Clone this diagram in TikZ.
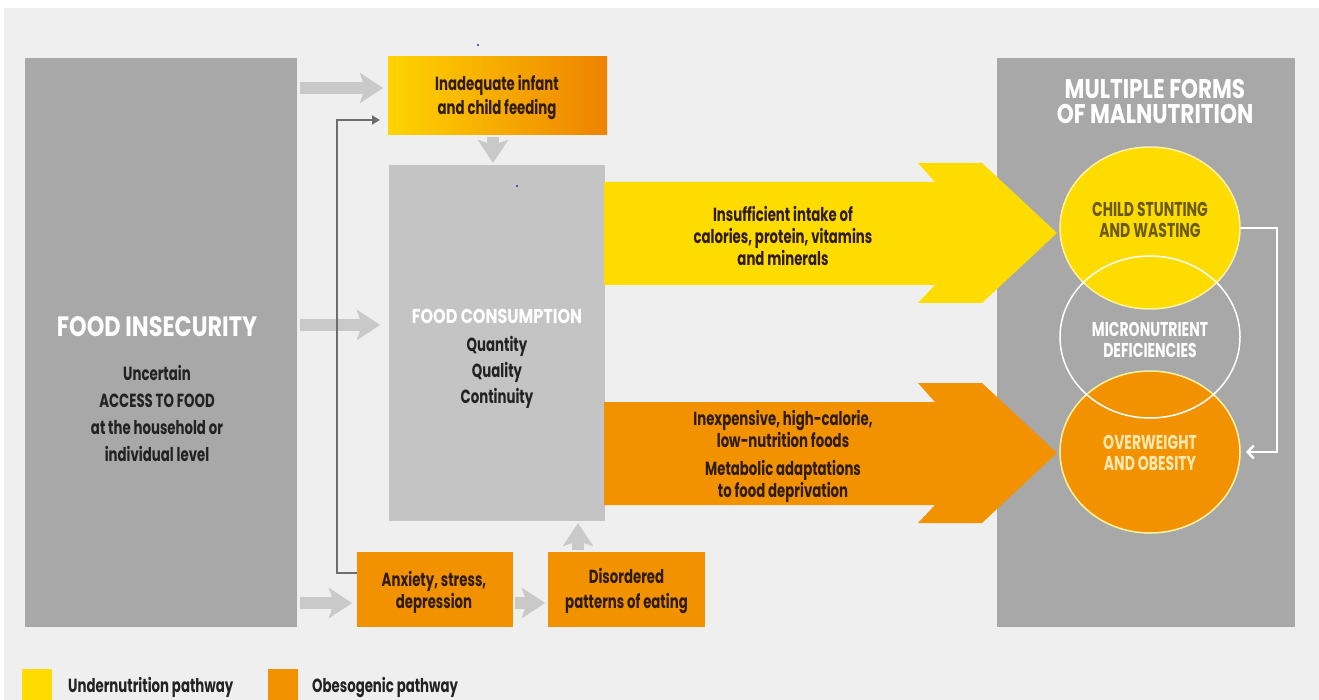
\documentclass[tikz,border=0pt]{standalone}
\usepackage{fontspec}
\setmainfont{Poppins}[FakeStretch=0.70]
\newfontfamily\headfont{Poppins}[FakeStretch=0.80]
\usetikzlibrary{arrows.meta,shapes.geometric}
\definecolor{bgc}{HTML}{EFEFEF}
\definecolor{darkgray}{HTML}{A8A8A8}
\definecolor{lightgray}{HTML}{C4C4C4}
\definecolor{arrowgray}{HTML}{C9C9C9}
\definecolor{linegray}{HTML}{6E6E6E}
\definecolor{yel}{HTML}{FFDC00}
\definecolor{ora}{HTML}{F39200}
\definecolor{gradL}{HTML}{FFD400}
\definecolor{gradR}{HTML}{EE8200}
\definecolor{txt}{HTML}{2E1C10}
\definecolor{txtg}{HTML}{222222}
\definecolor{olive}{HTML}{6A5A18}
\definecolor{cream}{HTML}{FCE8B0}
\definecolor{ringy}{HTML}{FFF2A0}
\definecolor{dotc}{HTML}{2B3A8C}
\begin{document}
\begin{tikzpicture}[x=1pt,y=-1pt,
  panel/.style={rectangle, inner sep=0pt, outer sep=0pt, draw=none},
  lbl/.style={inner sep=0pt, align=center, text=txt, font=\bfseries\fontsize{19}{22}\selectfont},
  head/.style={inner sep=0pt, align=center, text=white, font=\headfont\bfseries\fontsize{20}{24}\selectfont},
  garrow/.style={draw=arrowgray, line width=12pt, -{Stealth[length=23pt,width=30pt,inset=5pt]}},
  thinline/.style={draw=linegray, line width=2pt, -{Triangle[length=8pt,width=9pt]}},
  circ/.style={ellipse, inner sep=0pt, outer sep=0pt, minimum width=180pt, minimum height=162pt}
]
\useasboundingbox (0,0) rectangle (1319,700);
\fill[white] (0,0) rectangle (1319,700);
\fill[bgc] (4,8) rectangle (1319,700);

% helper coordinates
\coordinate (y88) at (0,88);
\coordinate (y325) at (0,325);
\coordinate (y603) at (0,603);
\coordinate (y573) at (0,573);
\coordinate (x493) at (493,0);
\coordinate (x578) at (578,0);
\coordinate (bend) at (337,120);
\coordinate (xr) at (1277,0);

% main panels
\node[panel, fill=darkgray, minimum width=272pt, minimum height=569pt] (fi) at (161,342.5) {};
\node[panel, left color=gradL, right color=gradR, minimum width=219pt, minimum height=78pt] (inad) at (497.5,96) {};
\node[panel, fill=lightgray, minimum width=216pt, minimum height=356pt] (fc) at (497,343) {};
\node[panel, fill=ora, minimum width=156pt, minimum height=75pt] (anx) at (435,589.5) {};
\node[panel, fill=ora, minimum width=157pt, minimum height=75pt] (dis) at (626.5,589.5) {};
\node[panel, fill=darkgray, minimum width=298pt, minimum height=569pt] (mf) at (1146,342.5) {};

% texts in boxes
\node[head, font=\headfont\bfseries\fontsize{28}{30}\selectfont] (fititle) at (157,327) {FOOD INSECURITY};
\node[lbl, text=txtg, font=\bfseries\fontsize{19}{27}\selectfont] (fitext) at (157,413) {Uncertain\\ACCESS TO FOOD\\at the household or\\individual level};
\node[lbl, font=\bfseries\fontsize{19}{24}\selectfont] (inadtext) at (497,98) {Inadequate infant\\and child feeding};
\node[head] (fctitle) at (497,316) {FOOD CONSUMPTION};
\node[lbl, text=txtg, font=\bfseries\fontsize{19}{26}\selectfont] (fctext) at (497,372) {Quantity\\Quality\\Continuity};
\node[lbl] (anxtext) at (434,592) {Anxiety, stress,\\depression};
\node[lbl, font=\bfseries\fontsize{19}{25}\selectfont] (distext) at (626.5,591) {Disordered\\patterns of eating};

% big arrows
\fill[yel] (604,182) -- (935,182) -- (918,163) -- (982,163) -- (1057,233) -- (982,303) -- (918,303) -- (935,285) -- (604,285) -- cycle;
\fill[ora] (604,402) -- (935,402) -- (918,383) -- (982,383) -- (1057,453) -- (982,523) -- (918,523) -- (935,505) -- (604,505) -- cycle;
\node[lbl] (instext) at (783,236) {Insufficient intake of\\calories, protein, vitamins\\and minerals};
\node[lbl] (inexp) at (783,456) {Inexpensive, high-calorie,\\low-nutrition foods\\[6pt]Metabolic adaptations\\to food deprivation};

% gray arrows
\draw[garrow, shorten <=3pt, shorten >=5pt] (fi.east |- y88) -- (inad.west |- y88);
\draw[garrow, shorten <=3pt, shorten >=9pt] (fi.east |- y325) -- (fc.west |- y325);
\draw[garrow, shorten <=3pt, shorten >=5pt] (fi.east |- y603) -- (anx.west |- y603);
\draw[garrow, shorten <=2pt, shorten >=3pt] (anx.east |- y603) -- (dis.west |- y603);
\draw[garrow, shorten <=2pt, shorten >=2pt] (inad.south -| x493) -- (fc.north -| x493);
\draw[garrow, shorten <=2pt, shorten >=2pt] (dis.north -| x578) -- (fc.south -| x578);

% thin connector
\draw[thinline, shorten >=8pt] (anx.west |- y573) -| (bend) -- (inad.west |- bend);

% small dots
\fill[dotc] (478,45) circle (1.2);
\fill[dotc] (517,186) circle (1.2);

% right panel
\node[head, font=\headfont\bfseries\fontsize{27}{25}\selectfont] (mftitle) at (1155,101) {MULTIPLE FORMS\\OF MALNUTRITION};
\node[circ, fill=yel] (cs) at (1150,228) {};
\node[circ, fill=ora] (ow) at (1150,452) {};
\node[circ] (mn) at (1150,337) {};
\draw[ringy, line width=1.5pt] (cs.center) ellipse (90 and 81);
\draw[ringy, line width=1.5pt] (ow.center) ellipse (90 and 81);
\draw[white, line width=1.5pt] (mn.center) ellipse (90 and 81);
\node[lbl, text=olive, font=\bfseries\fontsize{20}{21}\selectfont] (cstext) at (1150,220) {CHILD STUNTING\\AND WASTING};
\node[lbl, text=white, font=\bfseries\fontsize{20}{21}\selectfont] (mntext) at (1150,340) {MICRONUTRIENT\\DEFICIENCIES};
\node[lbl, text=cream, font=\bfseries\fontsize{20}{21}\selectfont] (owtext) at (1150,453) {OVERWEIGHT\\AND OBESITY};
\draw[white, line width=2.5pt, shorten >=6pt, -{Straight Barb[length=6pt,width=13pt]}] (cs.east) -- (cs.east -| xr) |- (ow.east);

% legend
\node[panel, fill=yel, minimum width=30pt, minimum height=31pt] (legy) at (37,684.5) {};
\node[panel, fill=ora, minimum width=30pt, minimum height=31pt] (lego) at (283,684.5) {};
\node[lbl, anchor=west, text=txtg] (legyt) at (68,687) {Undernutrition pathway};
\node[lbl, anchor=west, text=txtg] (legot) at (312,687) {Obesogenic pathway};
\end{tikzpicture}
\end{document}
